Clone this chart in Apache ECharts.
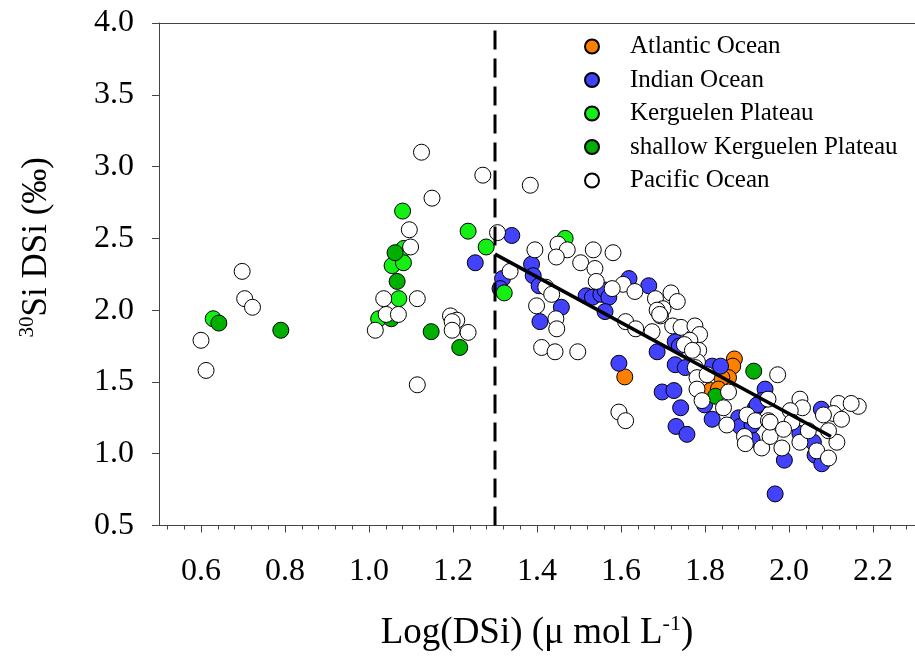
<!DOCTYPE html>
<html>
<head>
<meta charset="utf-8">
<script src="https://cdn.jsdelivr.net/npm/echarts@6/dist/echarts.min.js"></script>
<style>html,body{margin:0;padding:0;background:#fff}#c{width:915px;height:657px}</style>
</head>
<body>
<div id="c"></div>
<script>
// ---------- data ----------
const seriesNames = ['Atlantic Ocean', 'Indian Ocean', 'Kerguelen Plateau', 'shallow Kerguelen Plateau', 'Pacific Ocean'];

const atlantic = [[1.609,1.535],[1.870,1.66],[1.866,1.61],[1.856,1.53],[1.840,1.53],[1.813,1.44],[1.832,1.45]];

const indian = [[1.253,2.33],[1.340,2.52],[1.318,2.22],[1.312,2.15],[1.387,2.32],[1.391,2.24],[1.405,2.17],[1.407,1.92],
  [1.458,2.02],[1.517,2.10],[1.532,2.09],[1.552,2.11],[1.562,2.14],[1.571,2.09],[1.562,1.99],[1.619,2.22],[1.666,2.17],
  [1.595,1.63],[1.686,1.71],[1.729,1.78],[1.739,1.75],[1.729,1.62],[1.753,1.60],[1.817,1.61],[1.837,1.61],[1.698,1.43],
  [1.726,1.44],[1.742,1.32],[1.731,1.19],[1.757,1.135],[1.799,1.34],[1.817,1.24],[1.880,1.25],[1.884,1.19],[1.912,1.10],
  [1.920,1.32],[1.943,1.45],[1.935,1.37],[1.924,1.34],[1.912,1.20],[2.077,1.31],[2.026,1.14],[2.058,1.08],[2.062,0.99],
  [2.078,0.93],[1.989,0.955],[1.967,0.72]];

const kerguelen = [[0.629,1.94],[1.080,2.69],[1.236,2.55],[1.279,2.44],[1.083,2.43],[1.055,2.31],[1.082,2.33],[1.071,2.08],
  [1.023,1.94],[1.322,2.12],[1.467,2.50]];

const shallowKerguelen = [[0.6425,1.91],[0.790,1.86],[1.062,2.40],[1.067,2.20],[1.053,1.94],[1.148,1.85],[1.216,1.74],
  [1.916,1.575],[1.825,1.40]];

const pacific = [[0.600,1.79],[0.612,1.58],[0.698,2.27],[0.704,2.08],[0.7226,2.02],
  [1.125,3.10],[1.271,2.94],[1.150,2.78],[1.096,2.56],[1.099,2.44],[1.035,2.08],[1.115,2.08],[1.041,1.97],[1.070,1.97],
  [1.015,1.86],[1.194,1.96],[1.209,1.93],[1.198,1.92],[1.198,1.86],[1.236,1.845],[1.115,1.48],
  [1.306,2.54],[1.336,2.27],[1.384,2.87],[1.395,2.42],[1.450,2.46],[1.472,2.42],[1.446,2.37],[1.534,2.42],[1.581,2.40],
  [1.504,2.33],[1.538,2.29],[1.541,2.20],[1.605,2.18],[1.579,2.15],[1.421,2.16],[1.435,2.11],[1.399,2.03],[1.445,1.94],
  [1.447,1.87],[1.411,1.74],[1.443,1.71],[1.497,1.71],[1.595,1.29],[1.611,1.23],[1.633,2.13],[1.611,1.92],[1.635,1.87],
  [1.719,2.12],[1.682,2.08],[1.734,2.06],[1.700,2.01],[1.694,1.96],[1.674,1.85],[1.723,1.89],[1.743,1.88],[1.776,1.89],
  [1.787,1.83],[1.764,1.79],[1.751,1.76],[1.785,1.72],[1.782,1.64],[1.777,1.60],[1.856,1.43],[1.781,1.53],[1.781,1.45],
  [1.793,1.37],[1.844,1.32],[1.852,1.20],[1.900,1.27],[1.920,1.23],[1.951,1.23],[1.894,1.12],[1.935,1.04],[1.955,1.12],
  [1.950,1.38],[1.973,1.55],[1.896,1.07],[1.686,2.00],[1.692,1.97],[1.770,1.72],[1.805,1.55],
  [2.026,1.38],[2.032,1.32],[2.003,1.30],[2.118,1.35],[2.165,1.33],[2.148,1.35],[2.106,1.28],[2.125,1.24],[2.082,1.27],
  [1.955,1.22],[1.983,1.04],[2.007,1.22],[1.987,1.17],[2.026,1.08],[2.046,1.16],[2.066,1.02],[2.094,0.97],[2.114,1.08],
  [2.094,1.16]];

const thresholdX = [1.3, 1.3];
const thresholdY = [0.5, 4.0];
const fitX = [1.3, 2.1];
const fitY = [2.39, 1.12];

const xTickLabels = [0.6, 0.8, 1.0, 1.2, 1.4, 1.6, 1.8, 2.0, 2.2];
const yTickLabels = [0.5, 1.0, 1.5, 2.0, 2.5, 3.0, 3.5, 4.0];

// ---------- styles ----------
const colors = ['#ff8000', '#4242ff', '#14f014', '#00b000', '#ffffff'];
const FONT = '"Liberation Serif", "Times New Roman", serif';
const minorTicks = [];
for (let i = 0; i <= 45; i++) { const v = +(0.52 + i * 0.04).toFixed(2); if (v < 2.3) minorTicks.push(v); }

const seriesData = [atlantic, indian, kerguelen, shallowKerguelen, pacific];
const scatterSeries = seriesNames.map((n, i) => ({
  name: n, type: 'scatter', xAxisIndex: 0, yAxisIndex: 0,
  symbol: 'circle', symbolSize: 16, z: 2,
  itemStyle: { color: colors[i], borderColor: '#000', borderWidth: 1, opacity: 1 },
  emphasis: { disabled: true },
  data: seriesData[i]
}));

const option = {
  animation: false,
  backgroundColor: '#fff',
  grid: { left: 159, top: 23, width: 758, height: 505, containLabel: false },
  legend: {
    data: seriesNames, orient: 'vertical', left: 579, top: 29,
    itemWidth: 14, itemHeight: 14, itemGap: 8.5,
    textStyle: { fontFamily: FONT, fontSize: 25, color: '#000', lineHeight: 25, padding: [0, 0, 0, 26] },
    selectedMode: false
  },
  xAxis: [
    {
      type: 'value', min: 0.5, max: 2.3, position: 'bottom',
      axisLine: { show: true, onZero: false, lineStyle: { color: '#444', width: 1 } },
      axisTick: { show: true, inside: false, length: 7, customValues: xTickLabels, lineStyle: { color: '#444' } },
      axisLabel: { customValues: xTickLabels, formatter: v => v.toFixed(1), fontFamily: FONT, fontSize: 32, color: '#000', margin: 30 },
      splitLine: { show: false },
      name: '{a|Log(DSi) (μ mol L}{s|-1}{a|)}', nameLocation: 'middle', nameGap: 88,
      nameTextStyle: { rich: {
        a: { fontFamily: FONT, fontSize: 37, color: '#000', lineHeight: 40 },
        s: { fontFamily: FONT, fontSize: 22, color: '#000', lineHeight: 40, verticalAlign: 'top', padding: [0, 0, 14, 0] }
      } }
    },
    {
      type: 'value', min: 0.5, max: 2.3, position: 'bottom',
      axisLine: { show: false },
      axisTick: { show: true, inside: false, length: 4, customValues: minorTicks, lineStyle: { color: '#444' } },
      axisLabel: { show: false }, splitLine: { show: false }
    },
    {
      type: 'value', min: 0.5, max: 2.3, position: 'top',
      axisLine: { show: true, onZero: false, lineStyle: { color: '#444', width: 1 } },
      axisTick: { show: false }, axisLabel: { show: false }, splitLine: { show: false }
    }
  ],
  yAxis: [{
    type: 'value', min: 0.5, max: 4.0, interval: 0.5,
    axisLine: { show: true, onZero: false, lineStyle: { color: '#444', width: 1 } },
    axisTick: { show: true, inside: false, length: 7, lineStyle: { color: '#444' } },
    axisLabel: { formatter: v => v.toFixed(1), fontFamily: FONT, fontSize: 32, color: '#000', margin: 25 },
    splitLine: { show: false },
    name: '{s|30}{a|Si DSi (‰)}', nameLocation: 'middle', nameGap: 102,
    nameTextStyle: { padding: [0, 0, 0, 54], rich: {
      a: { fontFamily: FONT, fontSize: 35, color: '#000', lineHeight: 40 },
      s: { fontFamily: FONT, fontSize: 21, color: '#000', lineHeight: 40, verticalAlign: 'top', padding: [0, 0, 14, 0] }
    } }
  }],
  series: scatterSeries.concat([
    {
      name: 'threshold', type: 'line', xAxisIndex: 0, yAxisIndex: 0, symbol: 'none', silent: true, z: 5,
      lineStyle: { color: '#000', width: 3, type: [19, 9] },
      data: thresholdX.map((x, i) => [x, thresholdY[i]])
    },
    {
      name: 'fit', type: 'line', xAxisIndex: 0, yAxisIndex: 0, symbol: 'none', silent: true, z: 5,
      lineStyle: { color: '#000', width: 3.5 },
      data: fitX.map((x, i) => [x, fitY[i]])
    }
  ])
};

const chart = echarts.init(document.getElementById('c'), null, { renderer: 'canvas' });
chart.setOption(option);
</script>
</body>
</html>
